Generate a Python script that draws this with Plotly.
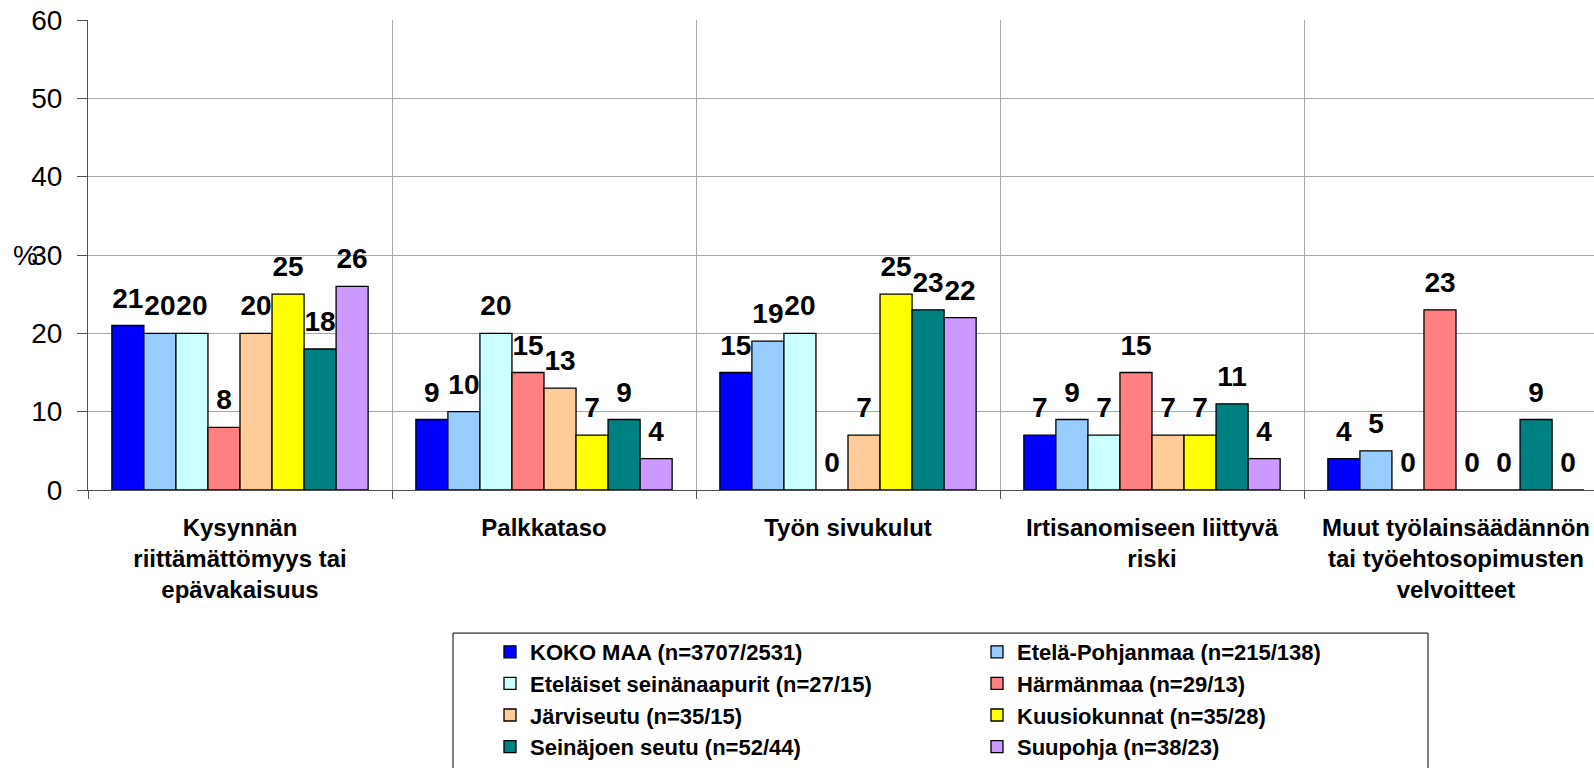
import plotly.graph_objects as go

# categories (x axis) and series, values in %
categories = [
    "Kysynnän<br>riittämättömyys tai<br>epävakaisuus",
    "Palkkataso",
    "Työn sivukulut",
    "Irtisanomiseen liittyvä<br>riski",
    "Muut työlainsäädännön<br>tai työehtosopimusten<br>velvoitteet",
]

series_names = [
    "KOKO MAA (n=3707/2531)",
    "Etelä-Pohjanmaa (n=215/138)",
    "Eteläiset seinänaapurit (n=27/15)",
    "Härmänmaa (n=29/13)",
    "Järviseutu (n=35/15)",
    "Kuusiokunnat (n=35/28)",
    "Seinäjoen seutu (n=52/44)",
    "Suupohja (n=38/23)",
]

koko_maa = [21, 9, 15, 7, 4]
etela_pohjanmaa = [20, 10, 19, 9, 5]
etelaiset_seinanaapurit = [20, 20, 20, 7, 0]
harmanmaa = [8, 15, 0, 15, 23]
jarviseutu = [20, 13, 7, 7, 0]
kuusiokunnat = [25, 7, 25, 7, 0]
seinajoen_seutu = [18, 9, 23, 11, 9]
suupohja = [26, 4, 22, 4, 0]

series_values = [koko_maa, etela_pohjanmaa, etelaiset_seinanaapurit, harmanmaa,
                 jarviseutu, kuusiokunnat, seinajoen_seutu, suupohja]

colors = ["#0000FF", "#99CCFF", "#CCFFFF", "#FF8080",
          "#FFCC99", "#FFFF00", "#008080", "#CC99FF"]

FONT = "Liberation Sans, Arial, sans-serif"
W, H = 1594, 768
L, R, T, B = 88, 0, 20, 275
plot_w = W - L - R
plot_h = H - T - B
cat_px = 304  # width of one category in px


def px_x(px):
    return (px - L) / plot_w


def px_y(px):
    return (H - B - px) / plot_h


fig = go.Figure()

for i, (name, vals, col) in enumerate(zip(series_names, series_values, colors)):
    fig.add_trace(go.Bar(
        x=categories,
        y=vals,
        name=name,
        marker=dict(color=col, line=dict(color="black", width=1.3)),
        offsetgroup=str(i),
        legend="legend" if i % 2 == 0 else "legend2",
        hoverinfo="skip",
    ))

# value labels, grouped the same way as the bars
for i, vals in enumerate(series_values):
    fig.add_trace(go.Scatter(
        x=categories,
        y=vals,
        mode="markers+text",
        text=[str(v) for v in vals],
        textposition="top center",
        textfont=dict(family=FONT, size=28, color="black", weight="bold"),
        marker=dict(size=16, opacity=0),
        offsetgroup=str(i),
        showlegend=False,
        hoverinfo="skip",
        cliponaxis=False,
    ))

legend_style = dict(
    orientation="v",
    font=dict(family=FONT, size=22, color="black", weight="bold"),
    bgcolor="rgba(0,0,0,0)",
    borderwidth=0,
    xanchor="left",
    yanchor="top",
    itemclick=False,
    itemdoubleclick=False,
)

fig.update_layout(
    width=W,
    height=H,
    margin=dict(l=L, r=R, t=T, b=B),
    paper_bgcolor="white",
    plot_bgcolor="white",
    font=dict(family=FONT, color="black"),
    barmode="group",
    bargap=0.157,
    bargroupgap=0,
    scattermode="group",
    scattergap=0.157,
    legend=dict(x=px_x(490), y=px_y(635), **legend_style),
    legend2=dict(x=px_x(977), y=px_y(635), **legend_style),
    xaxis=dict(
        type="category",
        range=[-0.5, -0.5 + plot_w / cat_px],
        tickson="boundaries",
        ticks="outside",
        ticklen=8,
        tickcolor="#505050",
        showgrid=True,
        gridcolor="#a8a8a8",
        gridwidth=1,
        showline=True,
        linecolor="#505050",
        linewidth=1,
        tickangle=0,
        tickfont=dict(family=FONT, size=24, color="black", weight="bold"),
        ticklabelstandoff=16,
        automargin=False,
        fixedrange=True,
    ),
    yaxis=dict(
        range=[0, 60],
        tickvals=[0, 10, 20, 30, 40, 50, 60],
        ticks="outside",
        ticklen=10,
        tickcolor="#505050",
        showgrid=True,
        gridcolor="#a8a8a8",
        gridwidth=1,
        showline=True,
        linecolor="#505050",
        linewidth=1,
        zeroline=False,
        tickfont=dict(family=FONT, size=28, color="black"),
        ticklabelstandoff=9,
        automargin=False,
        fixedrange=True,
    ),
    annotations=[dict(
        text="%", x=px_x(25), y=30, xref="paper", yref="y",
        showarrow=False, xanchor="center", yanchor="middle",
        font=dict(family=FONT, size=28, color="black"),
    )],
    shapes=[dict(
        type="rect", xref="paper", yref="paper",
        x0=px_x(453), x1=px_x(1428), y0=px_y(637), y1=px_y(800),
        line=dict(color="black", width=1), fillcolor="white", layer="below",
    )],
)

# drop the default 8px page margin so the figure fills the window
fig.write_html("out.html", config={"displayModeBar": False},
               post_script="document.body.style.margin='0';")
